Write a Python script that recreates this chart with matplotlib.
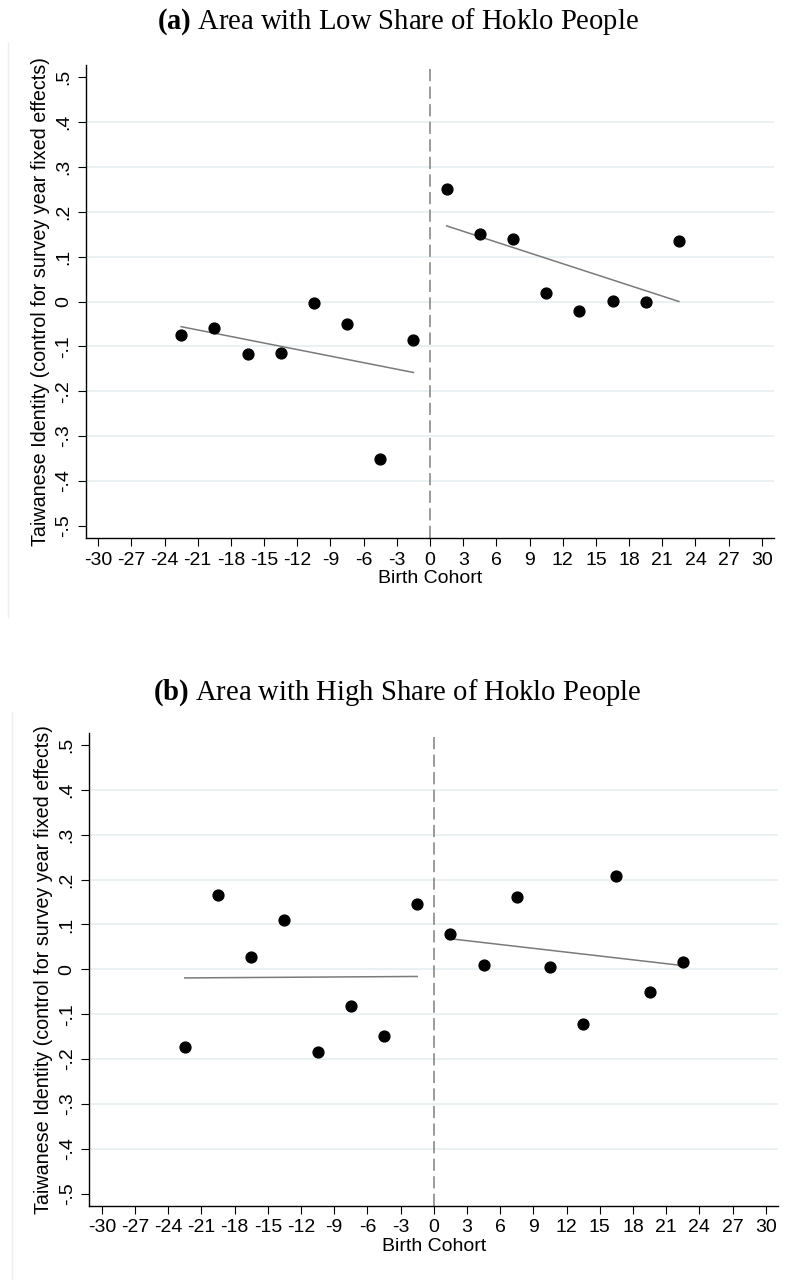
import matplotlib
matplotlib.use("Agg")
import matplotlib.pyplot as plt
import numpy as np
from matplotlib.lines import Line2D

plt.rcParams['font.family'] = ['Liberation Sans', 'DejaVu Sans']
plt.rcParams['mathtext.fontset'] = 'custom'
plt.rcParams['mathtext.rm'] = 'Liberation Serif'
plt.rcParams['mathtext.bf'] = 'Liberation Serif:bold'

# birth cohort bins (centres)
cohort_left = [-22.5, -19.5, -16.5, -13.5, -10.5, -7.5, -4.5, -1.5]
cohort_right = [1.5, 4.5, 7.5, 10.5, 13.5, 16.5, 19.5, 22.5]

# (a) low share of Hoklo people
low_left = [-0.075, -0.060, -0.116, -0.114, -0.004, -0.051, -0.352, -0.085]
low_right = [0.250, 0.150, 0.140, 0.020, -0.021, 0.002, -0.001, 0.134]

# (b) high share of Hoklo people
high_left = [-0.174, 0.165, 0.028, 0.110, -0.184, -0.082, -0.149, 0.145]
high_right = [0.079, 0.010, 0.160, 0.004, -0.123, 0.208, -0.050, 0.017]

xticks = np.arange(-30, 31, 3)
yticks = np.round(np.arange(-0.5, 0.51, 0.1), 1)


def ylab(v):
    if v == 0:
        return "0"
    s = "%.1f" % v
    return s.replace("0.", ".")


fig = plt.figure(figsize=(7.95, 12.8), dpi=100)


def panel(rect, yl, yr, title, ty):
    ax = fig.add_axes(rect)
    for v in yticks[1:-1]:
        ax.axhline(v, color='#e4edf0', lw=1.1, zorder=0)
    ax.axvline(0, color='#808080', lw=1.1, ls=(0, (8, 3.5)), zorder=1)
    for xs, ys in [(cohort_left, yl), (cohort_right, yr)]:
        xs = np.array(xs)
        # linear fit within each side of the cutoff
        b, a = np.polyfit(xs, ys, 1)
        ax.plot([xs[0], xs[-1]], [a + b * xs[0], a + b * xs[-1]],
                color='#7a7a7a', lw=1.1, zorder=2)
        ax.plot(xs, ys, 'o', color='black', ms=7.8, zorder=3)
    ax.set_xlim(-31.13, 31.13)
    ax.set_ylim(-0.527, 0.527)
    ax.set_xticks(xticks)
    ax.set_xticklabels([str(t) for t in xticks])
    ax.set_yticks(yticks)
    ax.set_yticklabels([ylab(v) for v in yticks], rotation=90, va='center')
    ax.tick_params(length=5.8, width=0.8, labelsize=14, pad=4)
    for s in ['top', 'right']:
        ax.spines[s].set_visible(False)
    for s in ['left', 'bottom']:
        ax.spines[s].set_linewidth(1.0)
    ax.set_xlabel("Birth Cohort", fontsize=14)
    ax.xaxis.set_label_coords(0.5, -0.068)
    ax.set_ylabel("Taiwanese Identity (control for survey year fixed effects)", fontsize=14.2)
    ax.yaxis.set_label_coords(-0.052, 0.5)
    fig.text(0.5, ty, title, ha='center', va='center', fontsize=20.6,
             family='Liberation Serif')
    return ax


panel([0.1078, 0.5797, 0.8662, 0.3695], low_left, low_right,
      r"$\mathbf{(a)}$ Area with Low Share of Hoklo People", 0.9828)
panel([0.1123, 0.0580, 0.8667, 0.3695], high_left, high_right,
      r"$\mathbf{(b)}$ Area with High Share of Hoklo People", 0.4586)

# faint graph-region borders
fig.add_artist(Line2D([7.5 / 795, 7.5 / 795], [1 - 43 / 1280, 1 - 617 / 1280],
                      color='#eeeeee', lw=1, transform=fig.transFigure))
fig.add_artist(Line2D([11.5 / 795, 11.5 / 795], [1 - 712 / 1280, 0],
                      color='#eeeeee', lw=1, transform=fig.transFigure))

fig.savefig("out.png", dpi=100)
